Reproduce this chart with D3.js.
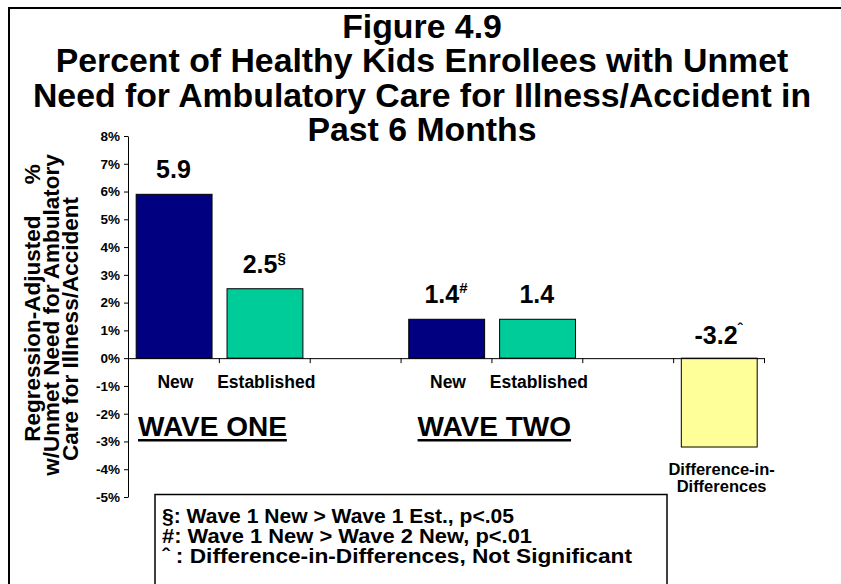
<!DOCTYPE html>
<html><head><meta charset="utf-8">
<script src="https://cdn.jsdelivr.net/npm/d3@7"></script>
<style>
body{margin:0;background:#fff}
svg{display:block}
text{font-family:"Liberation Sans",Arial,sans-serif;font-weight:bold;fill:#000;white-space:pre}
</style>
</head><body><svg id="c" width="841" height="584"></svg>
<script>
// ---- data ----
const categories = ["W1 New","W1 Established","gap1","W2 New","W2 Established","gap2","Difference-in-Differences"];
const barCats = ["W1 New","W1 Established","W2 New","W2 Established","Difference-in-Differences"];
const values = [5.9, 2.5, 1.4, 1.4, -3.2];
const valueLabels = ["5.9","2.5","1.4","1.4","-3.2"];
const valueMarks = ["","§","#","","ˆ"];
const barColors = ["#000080","#00CC99","#000080","#00CC99","#FFFF99"];
const categoryLabels = ["New","Established","","New","Established","",""];
const diffLabelLines = ["Difference-in-","Differences"];
const yTicks = [8,7,6,5,4,3,2,1,0,-1,-2,-3,-4,-5];
const titleLines = ["Figure 4.9","Percent of Healthy Kids Enrollees with Unmet","Need for Ambulatory Care for Illness/Accident in","Past 6 Months"];
const yTitleLines = ["Regression-Adjusted     %","w/Unmet Need for Ambulatory","Care for Illness/Accident"];
const groupLabels = ["WAVE ONE","WAVE TWO"];
const groupStarts = ["W1 New","W2 New"];
const legendLines = ["§: Wave 1 New > Wave 1 Est., p<.05","#: Wave 1 New > Wave 2 New, p<.01","ˆ : Difference-in-Differences, Not Significant"];

// ---- layout ----
const svg = d3.select("#c");
const x = d3.scaleBand().domain(categories).range([128, 764]).padding(0);
const bw = x.bandwidth();
const y = d3.scaleLinear().domain([-5, 8]).range([497, 136]);

// frame
svg.append("path").attr("d","M9,584V8H841").attr("fill","none").attr("stroke","#000").attr("stroke-width",2);

// title
svg.append("g").selectAll("text").data(titleLines).join("text")
  .attr("x", 422).attr("y", (d,i)=>38 + i*34.3)
  .attr("text-anchor","middle").style("font-size","33.8px").text(d=>d);

// y axis title
const yTitleY = [303, 315, 329];
svg.append("g").selectAll("text").data(yTitleLines).join("text")
  .attr("transform",(d,i)=>`translate(${40 + i*19},${yTitleY[i]}) rotate(-90)`)
  .attr("text-anchor","middle").style("font-size","22.5px").text(d=>d);

// y axis
const yAxis = svg.append("g").attr("transform","translate(128,0)")
  .call(d3.axisLeft(y).tickValues(yTicks).tickFormat(d=>d+"%").tickSize(4).tickSizeOuter(0));
yAxis.selectAll("text").style("font-size","13.5px").attr("x",-8);
yAxis.selectAll("line,path").attr("stroke","#000");

// bars
svg.append("g").selectAll("rect").data(barCats).join("rect")
  .attr("x", d=>x(d) + bw*0.09)
  .attr("width", bw*0.835)
  .attr("y", (d,i)=>y(Math.max(0, values[i])))
  .attr("height", (d,i)=>Math.abs(y(values[i]) - y(0)))
  .attr("fill", (d,i)=>barColors[i])
  .attr("stroke","#000").attr("stroke-width",1);

// x axis at zero with boundary ticks
const xb = d3.scaleLinear().domain([0, categories.length]).range(x.range());
const xAxis = svg.append("g").attr("transform",`translate(0,${y(0)})`)
  .call(d3.axisBottom(xb).ticks(categories.length).tickFormat("").tickSize(5).tickSizeOuter(0));
xAxis.selectAll("line,path").attr("stroke","#000");

// value labels
const vl = svg.append("g").selectAll("text").data(barCats).join("text")
  .attr("x", d=>x(d)+bw/2)
  .attr("y", (d,i)=> values[i] >= 0 ? y(values[i]) - 16 : y(0) - 14)
  .attr("text-anchor","middle").style("font-size","25px");
vl.append("tspan").text((d,i)=>valueLabels[i]);
vl.append("tspan").attr("dy",-10).style("font-size","15px").text((d,i)=>valueMarks[i]);

// category labels
svg.append("g").selectAll("text").data(categories.filter((d,i)=>categoryLabels[i])).join("text")
  .attr("x", d=>x(d)+bw/2 + 2).attr("y", 388)
  .attr("text-anchor","middle").style("font-size","17.5px")
  .text(d=>categoryLabels[categories.indexOf(d)]);

// difference label
svg.append("g").selectAll("text").data(diffLabelLines).join("text")
  .attr("x", x("Difference-in-Differences")+bw/2 + 3).attr("y",(d,i)=>475 + i*17)
  .attr("text-anchor","middle").style("font-size","16.5px").text(d=>d);

// group labels with underline
const gOff = [10, 17];
groupLabels.forEach((g,i)=>{
  const t = svg.append("text").attr("x", x(groupStarts[i]) + gOff[i]).attr("y", 436)
    .style("font-size","28px").text(g);
  const w = t.node().getComputedTextLength();
  svg.append("rect").attr("x", x(groupStarts[i]) + gOff[i]).attr("y", 439).attr("width", w).attr("height", 2.5).attr("fill","#000");
});

// legend box
const legendWidths = [352, 370, 470];
svg.append("rect").attr("x",155).attr("y",494.5).attr("width",512).attr("height",120)
  .attr("fill","#fff").attr("stroke","#000").attr("stroke-width",1.5);
svg.append("g").selectAll("text").data(legendLines).join("text")
  .attr("x",162).attr("y",(d,i)=>523 + i*20)
  .attr("textLength",(d,i)=>legendWidths[i]).attr("lengthAdjust","spacingAndGlyphs")
  .style("font-size","20px").text(d=>d);
</script>
</body></html>
